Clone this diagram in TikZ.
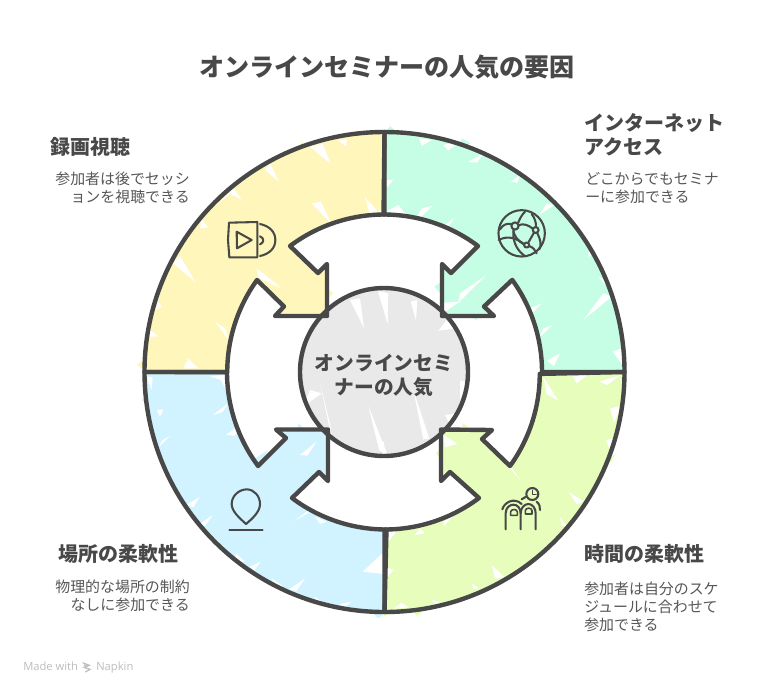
\documentclass[tikz,border=0pt]{standalone}
\usepackage{fontspec}
\setmainfont{Noto Sans CJK JP}
\newfontfamily\latinui{Open Sans}
\definecolor{ink}{HTML}{484848}
\definecolor{desc}{HTML}{575757}
\definecolor{cYellow}{HTML}{FFF6BC}
\definecolor{cGreen}{HTML}{C6FDE5}
\definecolor{cLime}{HTML}{E6FDBB}
\definecolor{cBlue}{HTML}{D0F3FF}
\definecolor{cGray}{HTML}{E9E9E9}
\tikzset{
  outline/.style={draw=ink,line width=3.3pt,line join=round,line cap=round},
  iconline/.style={draw=ink,line width=1.55pt,line join=round,line cap=round},
  titletext/.style={text=ink,font=\fontsize{18.8pt}{24pt}\selectfont\bfseries,anchor=center},
  headtext/.style={text=ink,font=\fontsize{15pt}{18pt}\selectfont\bfseries,anchor=north west,inner sep=0pt,align=left},
  bodytext/.style={text=desc,font=\fontsize{11.2pt}{13.5pt}\selectfont,inner sep=0pt},
  zA/.style={shift={(130,120)},x=0.25pt,y=-0.25pt},
  zB/.style={shift={(380,120)},x=0.25pt,y=-0.25pt},
  zC/.style={shift={(130,370)},x=0.25pt,y=-0.25pt},
  zD/.style={shift={(380,370)},x=0.25pt,y=-0.25pt},
  zG/.style={shift={(480,190)},x=0.25pt,y=-0.25pt},
  zF/.style={shift={(490,480)},x=0.25pt,y=-0.25pt},
  zN/.style={shift={(10,650)},x=0.25pt,y=-0.25pt},
}
\newcommand{\yellowpath}{(144.5,372) arc[start angle=180,end angle=90,radius=180pt] -- (384.5,214.5) arc[start angle=90,end angle=126.87,radius=118.1pt] -- (318,273) -- (327,264) -- (327,316) -- (275,316) -- (284,306.5) -- (257,280) arc[start angle=144.2,end angle=180,radius=118.1pt] -- cycle}
\newcommand{\greenpath}{(384.5,132) arc[start angle=90,end angle=0,radius=180pt] -- (542,372) arc[start angle=0,end angle=35.8,radius=118.1pt] -- (484,306.5) -- (494,316) -- (442,316) -- (442,264) -- (451,273) -- (478,246) arc[start angle=53.13,end angle=90,radius=118.1pt] -- cycle}
\newcommand{\limepath}{(624.5,372) arc[start angle=0,end angle=-90,radius=180pt] -- (384.5,529.5) arc[start angle=-90,end angle=-53.13,radius=118.1pt] -- (450,472) -- (441,481) -- (441,429.5) -- (492,430) -- (482,439) -- (510,466) arc[start angle=-35.8,end angle=0,radius=118.1pt] -- cycle}
\newcommand{\bluepath}{(384.5,612) arc[start angle=-90,end angle=-180,radius=180pt] -- (227,372) arc[start angle=180,end angle=215.8,radius=118.1pt] -- (258,466) -- (286,438) -- (276,429.5) -- (328,429.5) -- (328,481) -- (319,472) -- (292,498) arc[start angle=233.13,end angle=270,radius=118.1pt] -- cycle}
\begin{document}
\begin{tikzpicture}[x=0.75pt,y=-0.75pt]
\useasboundingbox (0,0) rectangle (774,694);
\fill[white] (0,0) rectangle (774,694);
% overflow bits of the loose fills
\begin{scope}[zA]
\fill[cYellow] (680,30)--(725,62)--(660,62)--cycle;
\fill[cYellow] (22,735)--(50,710)--(60,760)--cycle;
\fill[cYellow] (585,497)--(610,520)--(585,545)--cycle;
\fill[cYellow] (515,65)--(530,75)--(505,80)--cycle;
\end{scope}
\begin{scope}[zB]
\fill[cGreen] (30,18)--(60,45)--(10,50)--cycle;
\fill[cGreen] (-35,125)--(0,100)--(0,240)--(-40,225)--(-20,180)--cycle;
\fill[cGreen] (245,55)--(272,70)--(235,85)--cycle;
\fill[cGreen] (163,500)--(190,480)--(190,530)--cycle;
\fill[cGreen] (700,590)--(725,610)--(700,630)--cycle;
\fill[cGreen] (270,590)--(300,575)--(290,600)--cycle;
\end{scope}
\begin{scope}[zC]
\fill[cBlue] (505,160)--(555,208)--(500,215)--cycle;
\fill[cBlue] (555,240)--(590,262)--(555,290)--cycle;
\fill[cBlue] (35,90)--(55,70)--(55,105)--cycle;
\fill[cBlue] (725,725)--(775,720)--(745,745)--cycle;
\fill[cBlue] (375,265)--(415,240)--(385,290)--cycle;
\end{scope}
\begin{scope}[zD]
\fill[cLime] (-45,620)--(0,570)--(0,725)--cycle;
\fill[cLime] (0,720)--(40,725)--(15,738)--cycle;
\fill[cLime] (100,725)--(130,722)--(112,738)--cycle;
\fill[cLime] (168,250)--(190,225)--(190,280)--cycle;
\fill[cLime] (250,160)--(285,190)--(235,190)--cycle;
\fill[cLime] (680,260)--(705,255)--(690,280)--cycle;
\end{scope}
% main colour fills
\fill[cYellow] \yellowpath;
\fill[cGreen] \greenpath;
\fill[cLime] \limepath;
\fill[cBlue] \bluepath;
\fill[cGray] (384,372) circle[radius=63pt];
% white slivers of the hachure
\begin{scope}[zA]
\fill[white] (405,150)--(420,130)--(447,185)--cycle;
\fill[white] (540,80)--(578,72)--(602,132)--cycle;
\fill[white] (625,62)--(650,58)--(650,80)--cycle;
\fill[white] (545,250)--(572,245)--(605,312)--cycle;
\fill[white] (705,232)--(740,270)--(720,285)--cycle;
\fill[white] (130,430)--(150,408)--(197,487)--cycle;
\fill[white] (255,605)--(285,625)--(298,662)--cycle;
\fill[white] (175,715)--(205,745)--(160,745)--cycle;
\fill[white] (60,650)--(85,650)--(55,625)--cycle;
\fill[white] (258,258)--(310,205)--(335,238)--(300,222)--cycle;
\fill[white] (210,325)--(235,322)--(215,298)--cycle;
\fill[white] (340,510)--(385,470)--(380,448)--(452,505)--(385,472)--cycle;
\fill[white] (85,545)--(95,560)--(75,570)--cycle;
\fill[white] (380,445)--(450,500)--(400,470)--cycle;
\fill[white] (725,280)--(755,270)--(755,290)--cycle;
\end{scope}
\begin{scope}[zB]
\fill[white] (118,55)--(155,60)--(125,78)--cycle;
\fill[white] (190,75)--(245,60)--(205,92)--cycle;
\fill[white] (265,125)--(312,100)--(290,128)--cycle;
\fill[white] (392,185)--(420,165)--(412,188)--cycle;
\fill[white] (478,285)--(522,255)--(500,250)--cycle;
\fill[white] (18,180)--(40,180)--(18,205)--cycle;
\fill[white] (18,275)--(55,255)--(85,292)--cycle;
\fill[white] (100,312)--(157,258)--(125,265)--cycle;
\fill[white] (190,318)--(222,295)--(205,322)--cycle;
\fill[white] (235,548)--(318,466)--(240,520)--cycle;
\fill[white] (190,548)--(240,545)--(190,578)--cycle;
\fill[white] (610,600)--(695,530)--(670,520)--cycle;
\fill[white] (420,578)--(485,550)--(455,582)--cycle;
\fill[white] (478,652)--(518,615)--(490,625)--cycle;
\fill[white] (500,722)--(540,700)--(522,738)--cycle;
\fill[white] (698,695)--(735,745)--(735,680)--cycle;
\fill[white] (625,412)--(642,400)--(625,395)--cycle;
\fill[white] (655,470)--(682,502)--(672,478)--cycle;
\end{scope}
\begin{scope}[zC]
\fill[white] (50,20)--(65,60)--(68,22)--cycle;
\fill[white] (85,232)--(120,198)--(98,210)--cycle;
\fill[white] (248,135)--(295,100)--(278,126)--cycle;
\fill[white] (288,195)--(335,160)--(315,197)--cycle;
\fill[white] (170,405)--(210,380)--(190,412)--cycle;
\fill[white] (210,462)--(248,435)--(225,468)--cycle;
\fill[white] (495,452)--(555,405)--(530,432)--cycle;
\fill[white] (510,255)--(560,215)--(532,257)--cycle;
\fill[white] (698,605)--(762,545)--(762,612)--cycle;
\fill[white] (475,660)--(525,625)--(500,662)--cycle;
\fill[white] (318,550)--(345,575)--(315,572)--cycle;
\fill[white] (360,590)--(392,575)--(372,602)--cycle;
\fill[white] (425,625)--(460,650)--(435,652)--cycle;
\fill[white] (555,680)--(590,705)--(560,702)--cycle;
\fill[white] (630,702)--(665,695)--(642,712)--cycle;
\fill[white] (240,18)--(292,15)--(290,62)--(272,30)--cycle;
\fill[white] (555,440)--(590,455)--(570,462)--cycle;
\fill[white] (80,120)--(90,140)--(100,118)--cycle;
\end{scope}
\begin{scope}[zD]
\fill[white] (490,20)--(535,92)--(500,72)--cycle;
\fill[white] (578,18)--(622,15)--(590,40)--cycle;
\fill[white] (658,35)--(722,15)--(682,45)--cycle;
\fill[white] (690,115)--(722,108)--(702,160)--cycle;
\fill[white] (678,210)--(702,205)--(695,255)--cycle;
\fill[white] (565,365)--(612,395)--(590,402)--cycle;
\fill[white] (540,440)--(562,472)--(545,467)--cycle;
\fill[white] (335,585)--(372,620)--(345,627)--cycle;
\fill[white] (275,640)--(297,655)--(280,657)--cycle;
\fill[white] (155,690)--(182,695)--(165,702)--cycle;
\fill[white] (40,716)--(85,712)--(65,698)--cycle;
\fill[white] (18,490)--(60,470)--(28,512)--cycle;
\fill[white] (18,590)--(40,600)--(22,622)--cycle;
\fill[white] (385,290)--(422,332)--(397,296)--cycle;
\fill[white] (190,195)--(232,222)--(195,232)--cycle;
\fill[white] (190,455)--(222,435)--(190,470)--cycle;
\fill[white] (120,475)--(135,490)--(105,495)--cycle;
\end{scope}
% slivers of the centre circle
\begin{scope}[zA]
\fill[white] (660,540)--(690,535)--(702,625)--cycle;
\fill[white] (745,512)--(775,520)--(772,610)--cycle;
\end{scope}
\begin{scope}[zB]
\fill[white] (-5,520)--(18,522)--(25,612)--cycle;
\fill[white] (92,545)--(112,540)--(108,602)--cycle;
\fill[white] (175,632)--(222,626)--(200,600)--cycle;
\end{scope}
\begin{scope}[zC]
\fill[white] (570,40)--(600,160)--(612,238)--cycle;
\fill[white] (715,108)--(748,242)--(772,252)--cycle;
\fill[white] (520,110)--(575,70)--(540,60)--cycle;
\end{scope}
\begin{scope}[zD]
\fill[white] (100,60)--(130,208)--(148,205)--cycle;
\fill[white] (195,135)--(242,130)--(210,165)--cycle;
\fill[white] (240,32)--(262,35)--(240,92)--cycle;
\fill[white] (-8,215)--(12,215)--(12,255)--cycle;
\end{scope}
% outlines
\draw[outline] \yellowpath;
\draw[outline] \greenpath;
\draw[outline] \limepath;
\draw[outline] \bluepath;
\draw[outline] (384,372) circle[radius=63pt];
% video icon
\begin{scope}[zA]
\draw[iconline] (297,308)--(382,306)--(382,412)--(298,412)--(294,360)--cycle;
\draw[iconline] (320,335)--(365,360)--(321,385)--cycle;
\draw[iconline] (390,312) .. controls (418,318) and (436,335) .. (436,360) .. controls (436,385) and (418,402) .. (390,408);
\draw[iconline] (390,349) .. controls (403,354) and (403,368) .. (390,373);
\end{scope}
% globe icon
\begin{scope}[zG]
\draw[iconline] (125,130) circle[radius=17.4pt];
\draw[iconline] (105,108) circle[radius=2.7pt];
\draw[iconline] (167,120) circle[radius=2.2pt];
\draw[iconline] (140,165) circle[radius=1.9pt];
\draw[iconline] (115,97) .. controls (120,85) and (125,75) .. (135,65);
\draw[iconline] (93,102) .. controls (80,100) and (70,103) .. (60,118);
\draw[iconline] (117,105) .. controls (130,100) and (145,105) .. (157,115);
\draw[iconline] (162,128) -- (146,156);
\draw[iconline] (100,120) .. controls (100,135) and (115,155) .. (132,163);
\draw[iconline] (56,150) .. controls (85,135) and (110,145) .. (133,163);
\draw[iconline] (100,125) .. controls (98,160) and (115,185) .. (135,198);
\draw[iconline] (147,168) .. controls (160,172) and (165,180) .. (170,190);
\draw[iconline] (172,130) .. controls (182,150) and (185,165) .. (178,178);
\draw[iconline] (155,72) .. controls (165,85) and (168,97) .. (168,110);
\end{scope}
% pin icon
\begin{scope}[zC]
\draw[iconline] (348,462) .. controls (330,445) and (305,425) .. (305,402) .. controls (305,375) and (330,358) .. (350,358) .. controls (372,358) and (390,378) .. (390,402) .. controls (390,425) and (368,445) .. (348,462) -- cycle;
\draw[iconline] (298,480)--(398,480);
\end{scope}
% finger icon
\begin{scope}[zF]
\draw[iconline] (127,42) circle[radius=4.5pt];
\draw[iconline,line width=1.2pt] (127,31)--(127,44)--(138,44);
\draw[iconline] (47,148)--(47,100) .. controls (47,82) and (60,74) .. (70,74) .. controls (82,74) and (92,84) .. (92,100)--(92,148);
\draw[iconline] (92,100) .. controls (92,84) and (103,72) .. (115,72) .. controls (127,72) and (137,84) .. (137,100)--(137,148);
\draw[iconline,line width=1.2pt] (62,106)--(62,96) .. controls (62,86) and (82,86) .. (82,96)--(82,106)--cycle;
\draw[iconline,line width=1.2pt] (106,102)--(106,92) .. controls (106,82) and (126,82) .. (126,92)--(126,102)--cycle;
\draw[iconline] (37,88) .. controls (42,68) and (72,50) .. (95,72);
\draw[iconline] (95,58)--(108,50);
\draw[iconline] (140,65) .. controls (148,72) and (151,80) .. (150,90);
\end{scope}
% texts
\node[titletext] (title) at (387,67) {オンラインセミナーの人気の要因};
\node[text=ink,font=\fontsize{14.8pt}{18pt}\selectfont\bfseries,align=center,inner sep=0pt] (hub) at (384,375) {オンラインセミ\\ナーの人気};
\node[headtext] (h1) at (50,137) {録画視聴};
\node[bodytext,anchor=north east,align=right] (b1) at (190,172) {参加者は後でセッシ\\ョンを視聴できる};
\node[headtext] (h2) at (584,113) {インターネット\\アクセス};
\node[bodytext,anchor=north west,align=left] (b2) at (585,172) {どこからでもセミナ\\ーに参加できる};
\node[headtext] (h3) at (58,544) {場所の柔軟性};
\node[bodytext,anchor=north east,align=right] (b3) at (190,580) {物理的な場所の制約\\なしに参加できる};
\node[headtext] (h4) at (584,544) {時間の柔軟性};
\node[bodytext,anchor=north west,align=left] (b4) at (584,582) {参加者は自分のスケ\\ジュールに合わせて\\参加できる};
% logo
\node[text=black!26,font=\latinui\fontsize{8.4pt}{10pt}\selectfont,anchor=base west,inner sep=0pt] (m) at (23,670) {Made with};
\node[text=black!26,font=\latinui\fontsize{8.4pt}{10pt}\selectfont,anchor=base west,inner sep=0pt] (n) at (96,670) {Napkin};
\begin{scope}[zN]
\draw[black!26,line width=0.9pt] (218,38)--(238,46)--(222,52)--(240,58)--(226,66);
\draw[black!26,line width=0.9pt] (222,44)--(232,50);
\end{scope}
\end{tikzpicture}
\end{document}
